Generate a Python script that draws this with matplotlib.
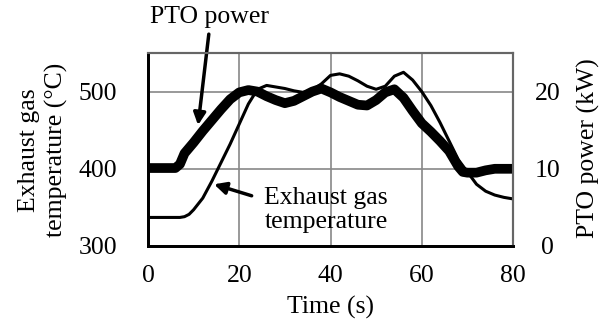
import matplotlib
matplotlib.use('Agg')
import matplotlib.pyplot as plt

plt.rcParams['font.family'] = ['Liberation Serif', 'DejaVu Serif']
plt.rcParams['font.size'] = 18.5

# 排气温度 (°C)
t_temp = [0, 7, 8, 9, 10, 12, 14, 16, 18, 20, 22, 24, 26, 28, 30, 32, 34, 36, 38,
          40, 42, 44, 46, 48, 50, 52, 54, 56, 58, 60, 62, 64, 66, 68, 70, 72, 74,
          76, 78, 80]
temp = [337, 337, 338, 341, 347, 362, 384, 408, 432, 458, 484, 503, 508, 506, 504,
        501, 499, 502, 510, 521, 523, 520, 514, 507, 503, 507, 520, 525, 515, 500,
        482, 460, 436, 412, 396, 380, 371, 366, 363, 361]

# PTO 功率 (kW)
t_pto = [0, 6, 7, 8, 10, 12, 14, 16, 18, 20, 22, 24, 26, 28, 30, 32, 34, 36, 38,
         40, 42, 44, 46, 48, 50, 52, 54, 56, 58, 60, 62, 64, 66, 68, 69, 70, 72,
         74, 76, 78, 80]
pto = [10.1, 10.1, 10.6, 12.0, 13.4, 14.9, 16.3, 17.7, 19.0, 19.9, 20.2, 20.0,
       19.4, 18.9, 18.5, 18.8, 19.4, 20.0, 20.4, 19.9, 19.3, 18.8, 18.3, 18.2,
       18.9, 19.9, 20.3, 19.2, 17.5, 15.9, 14.8, 13.6, 12.3, 10.3, 9.6, 9.5, 9.5,
       9.8, 10.0, 10.0, 10.0]

x_ticks = [0, 20, 40, 60, 80]
temp_ticks = [300, 400, 500]
pto_ticks = [0, 10, 20]

fig = plt.figure(figsize=(6.06, 3.27), dpi=100)
ax = fig.add_axes([148 / 606, 81 / 327, 365 / 606, 193 / 327])
ax2 = ax.twinx()

ax.plot(t_temp, temp, color='black', lw=2.2)
ax2.plot(t_pto, pto, color='black', lw=7, solid_capstyle='butt')

ax.set_xlim(0, 80)
ax.set_ylim(300, 550)
ax2.set_ylim(0, 25)
ax.set_xticks(x_ticks)
ax.set_yticks(temp_ticks)
ax2.set_yticks(pto_ticks)
ax.tick_params(axis='x', length=0, pad=14)
ax.tick_params(axis='y', length=0, pad=22)
ax2.tick_params(axis='y', length=0, pad=25)
for lab in ax2.get_yticklabels():
    lab.set_horizontalalignment('center')

ax.grid(True, color='#888888', lw=1.2)
ax.set_axisbelow(True)
for a in (ax, ax2):
    a.spines['left'].set_color('black')
    a.spines['left'].set_linewidth(2)
    a.spines['bottom'].set_color('black')
    a.spines['bottom'].set_linewidth(2)
    a.spines['top'].set_color('#666666')
    a.spines['top'].set_linewidth(1.5)
    a.spines['right'].set_color('#666666')
    a.spines['right'].set_linewidth(1.5)

ax.set_xlabel('Time (s)', labelpad=6)
fig.text(43 / 606, 1 - 150 / 327, 'Exhaust gas\ntemperature (°C)', rotation=90,
         ha='center', va='center', linespacing=1.25)
fig.text(588 / 606, 1 - 148 / 327, 'PTO power (kW)', rotation=90,
         ha='center', va='center')

# 标注
ax.text(13.5, 596, 'PTO power', ha='center', va='center', clip_on=False)
ax.annotate('', xy=(10.9, 453), xytext=(13.4, 578), annotation_clip=False,
            arrowprops=dict(arrowstyle='-|>', lw=2.5, color='black',
                            mutation_scale=18))
ax.text(39, 347, 'Exhaust gas\ntemperature', ha='center', va='center',
        linespacing=1.1, zorder=5)
ax.annotate('', xy=(13.9, 381), xytext=(23.3, 364),
            arrowprops=dict(arrowstyle='-|>', lw=2.5, color='black',
                            mutation_scale=18))

fig.savefig('out.png', dpi=100)
